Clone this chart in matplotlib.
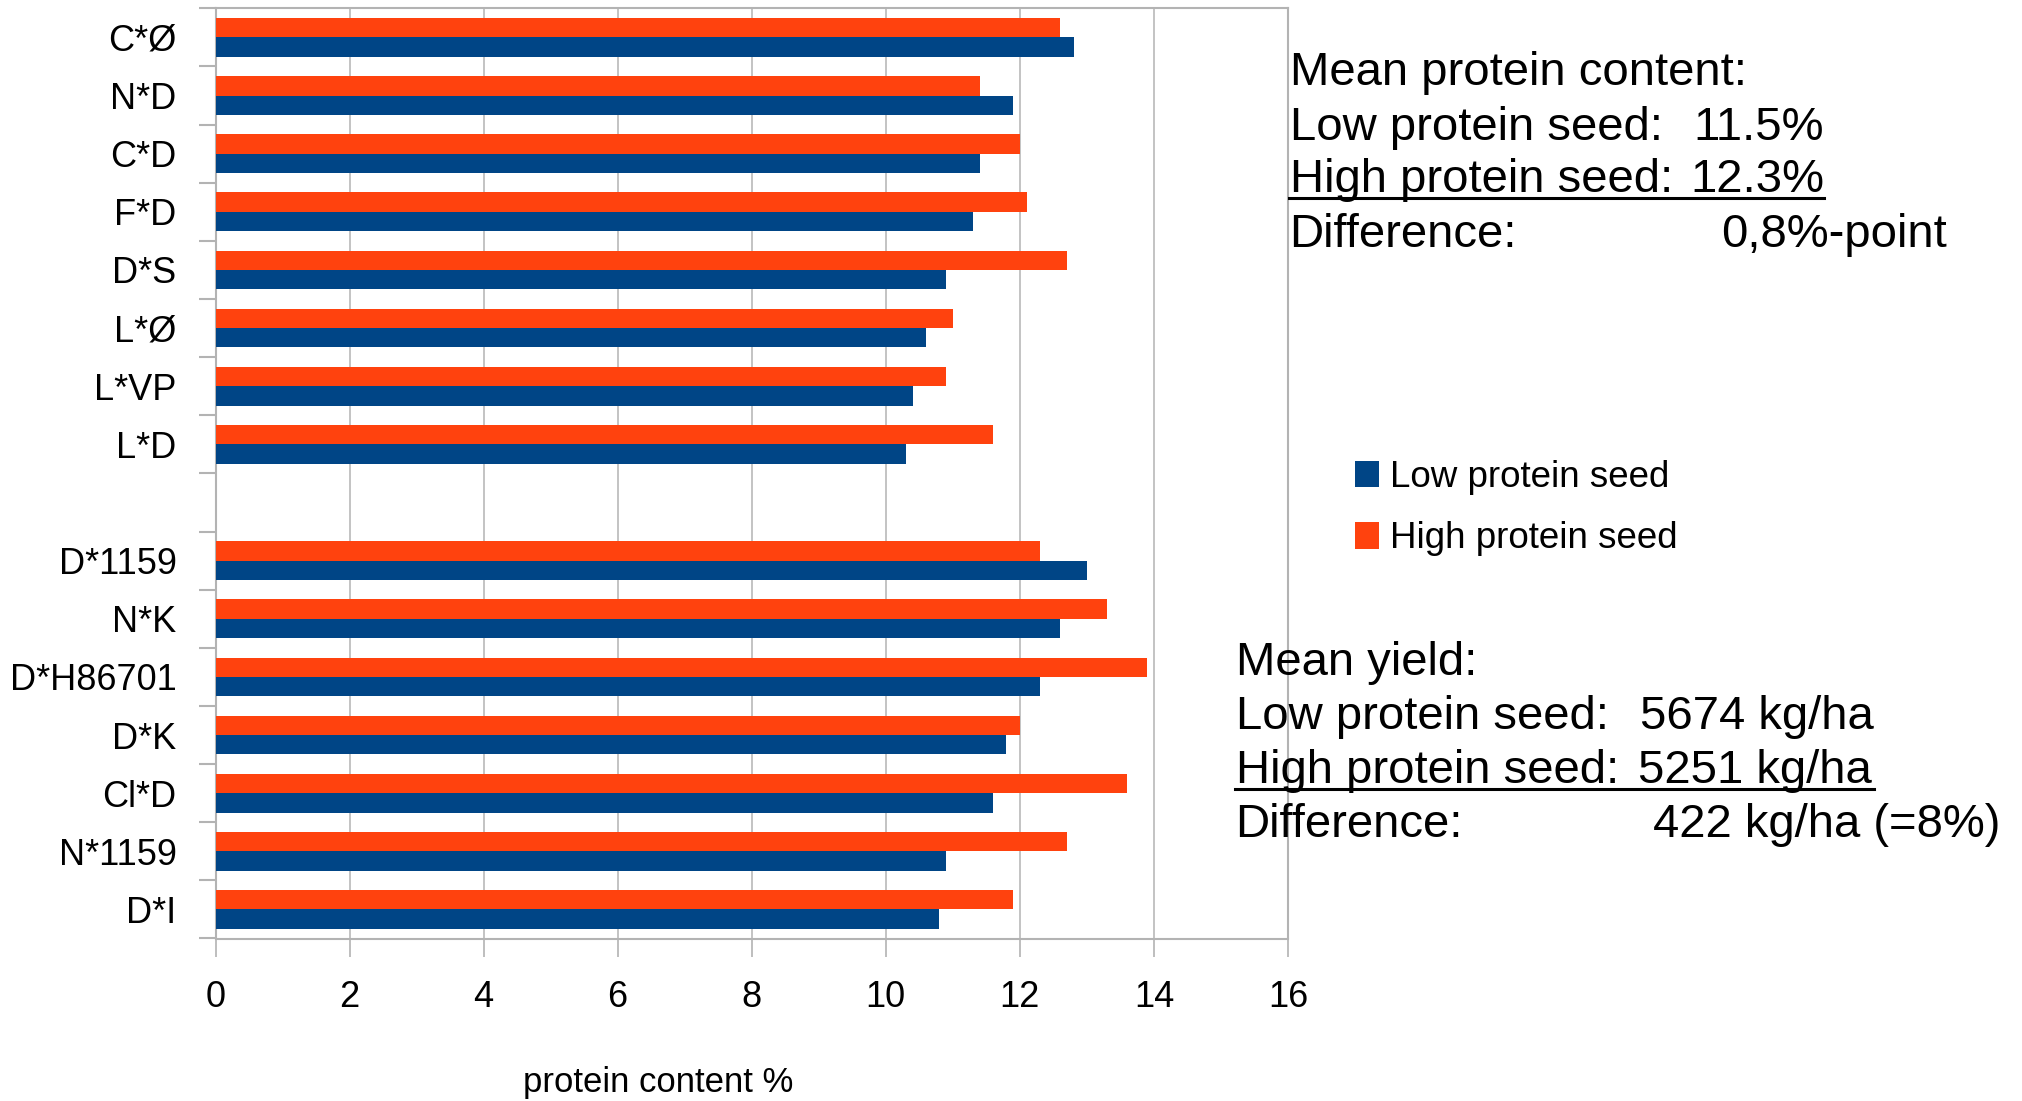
import numpy as np
import matplotlib
matplotlib.use("Agg")
import matplotlib.pyplot as plt
from matplotlib.lines import Line2D

plt.rcParams['font.family'] = ['Liberation Sans', 'DejaVu Sans']

categories = ["C*Ø", "N*D", "C*D", "F*D", "D*S", "L*Ø", "L*VP", "L*D", "",
              "D*1159", "N*K", "D*H86701", "D*K", "Cl*D", "N*1159", "D*I"]
low_protein = [12.8, 11.9, 11.4, 11.3, 10.9, 10.6, 10.4, 10.3, np.nan,
               13.0, 12.6, 12.3, 11.8, 11.6, 10.9, 10.8]
high_protein = [12.6, 11.4, 12.0, 12.1, 12.7, 11.0, 10.9, 11.6, np.nan,
                12.3, 13.3, 13.9, 12.0, 13.6, 12.7, 11.9]
series_names = ["Low protein seed", "High protein seed"]
x_ticks = [0, 2, 4, 6, 8, 10, 12, 14, 16]

BLUE = "#004586"
ORANGE = "#ff420e"
GRAY = "#b3b3b3"

W, H = 2022, 1101
fig = plt.figure(figsize=(W / 100, H / 100), dpi=100)

def fx(px):
    return px / W

def fy(py):
    return 1 - py / H

ax_l, ax_r, ax_t, ax_b = 215.5, 1288, 8.3, 938.5
ax = fig.add_axes([fx(ax_l), fy(ax_b), fx(ax_r - ax_l), (ax_b - ax_t) / H])

pos = np.arange(len(categories))
h = 1 / 3
b_low = ax.barh(pos + h / 2, low_protein, height=h, color=BLUE, label=series_names[0], zorder=3)
b_high = ax.barh(pos - h / 2, high_protein, height=h, color=ORANGE, label=series_names[1], zorder=3)

ax.set_xlim(0, 16)
ax.set_ylim(len(categories) - 0.5, -0.5)
ax.set_xticks(x_ticks)
ax.set_xticklabels([str(t) for t in x_ticks], fontsize=26)
ax.set_yticks(pos)
ax.set_yticklabels(categories, fontsize=26)
ax.set_yticks(np.arange(-0.5, len(categories), 1), minor=True)

ax.tick_params(axis='y', which='major', length=0, pad=28)
ax.tick_params(axis='y', which='minor', length=12, width=1.5, color=GRAY, direction='out')
ax.tick_params(axis='x', which='major', length=13, width=1.2, color=GRAY, direction='out', pad=17)

ax.grid(axis='x', color=GRAY, linewidth=1.1, zorder=0)
ax.set_axisbelow(True)
for s in ax.spines.values():
    s.set_color(GRAY)
    s.set_linewidth(1.5)

ax.set_xlabel("protein content %", fontsize=25)
ax.xaxis.set_label_coords((658 - ax_l) / (ax_r - ax_l), -(1092 - ax_b) / (ax_b - ax_t))
ax.xaxis.label.set_verticalalignment('baseline')

# legend
fig.legend(handles=[b_low, b_high], labels=series_names, loc='center left',
           bbox_to_anchor=(fx(1355), fy(508)), frameon=False, fontsize=26.5,
           handlelength=0.65, handleheight=0.72, handletextpad=0.3,
           labelspacing=0.72, borderpad=0, borderaxespad=0)

# text blocks
FS = 34
def line(x, y, s):
    fig.text(fx(x), fy(y), s, fontsize=FS, ha='left', va='baseline')

line(1289.6, 85, "Mean protein content:")
line(1289.6, 140, "Low protein seed:")
line(1693.6, 140, "11.5%")
line(1289.6, 192, "High protein seed:")
line(1690.6, 192, "12.3%")
line(1289.6, 247, "Difference:")
line(1721, 247, "0,8%-point")
fig.add_artist(Line2D([fx(1289), fx(1824)], [fy(198.5), fy(198.5)], color='black', linewidth=2.2))

line(1235.6, 675, "Mean yield:")
line(1235.6, 729, "Low protein seed:")
line(1640, 729, "5674 kg/ha")
line(1235.6, 783, "High protein seed:")
line(1637.7, 783, "5251 kg/ha")
line(1235.6, 837, "Difference:")
line(1653, 837, "422 kg/ha (=8%)")
fig.add_artist(Line2D([fx(1235), fx(1874)], [fy(789), fy(789)], color='black', linewidth=2.2))

fig.savefig("out.png", dpi=100)
